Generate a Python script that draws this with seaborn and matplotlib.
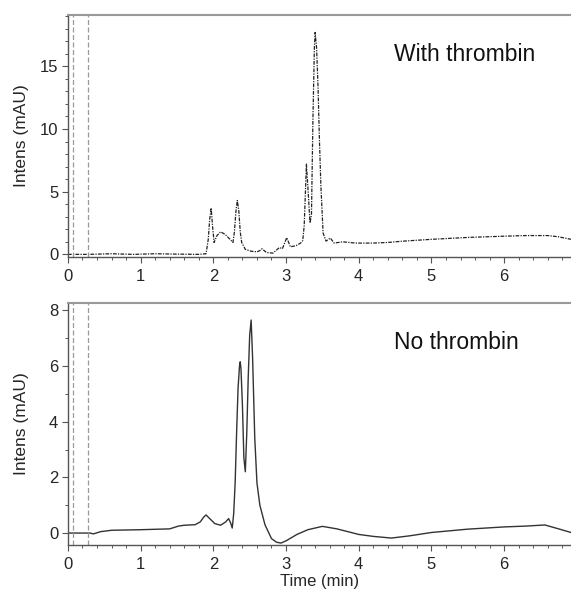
import numpy as np
import pandas as pd
import matplotlib
matplotlib.use("Agg")
import matplotlib.pyplot as plt
from matplotlib.ticker import MultipleLocator
import seaborn as sns

# --- data ---
time_with = [0.00, 0.30, 0.60, 0.90, 1.20, 1.50, 1.80, 1.90, 1.93, 1.95, 1.97, 1.99, 2.01,
             2.05, 2.10, 2.16, 2.23, 2.27, 2.29, 2.31, 2.33, 2.35, 2.37, 2.39, 2.44,
             2.52, 2.60, 2.64, 2.67, 2.73, 2.82, 2.91, 2.95, 2.98, 3.01, 3.06, 3.14, 3.20,
             3.23, 3.25, 3.27, 3.28, 3.30, 3.33, 3.35, 3.37, 3.39, 3.40, 3.42, 3.44,
             3.46, 3.48, 3.51, 3.55, 3.61, 3.66, 3.72, 3.78, 3.96, 4.20, 4.40, 4.60, 5.00,
             5.50, 6.00, 6.30, 6.60, 6.75, 6.92]
intens_with = [0.00, 0.00, 0.05, 0.00, 0.05, 0.02, 0.00, 0.05, 1.2, 2.8, 3.7, 2.2, 0.95,
               1.5, 1.8, 1.6, 1.2, 0.95, 1.8, 3.4, 4.3, 3.5, 1.8, 0.95, 0.4,
               0.25, 0.2, 0.3, 0.45, 0.15, 0.1, 0.55, 0.45, 0.9, 1.33, 0.6, 0.7, 0.9,
               1.1, 2.3, 5.5, 7.2, 5.4, 2.5, 3.2, 10.8, 16.5, 17.7, 16.5, 13.4,
               9.0, 5.4, 1.7, 1.06, 1.3, 0.9, 0.95, 1.0, 0.9, 0.9, 0.95, 1.05, 1.2,
               1.35, 1.45, 1.5, 1.5, 1.4, 1.2]

time_no = [0.00, 0.30, 0.35, 0.45, 0.60, 1.00, 1.40, 1.52, 1.60, 1.75, 1.82, 1.87, 1.90,
           1.95, 2.02, 2.10, 2.17, 2.21, 2.24, 2.26, 2.28, 2.30, 2.32, 2.34, 2.36,
           2.37, 2.38, 2.40, 2.42, 2.44, 2.46, 2.48, 2.50, 2.52, 2.54, 2.57, 2.60,
           2.64, 2.71, 2.80, 2.87, 2.93, 3.00, 3.15, 3.30, 3.50, 3.70, 4.00, 4.20,
           4.45, 4.70, 5.00, 5.50, 6.00, 6.30, 6.56, 6.75, 6.92]
intens_no = [0.00, 0.00, -0.03, 0.05, 0.10, 0.12, 0.15, 0.25, 0.28, 0.30, 0.40, 0.58, 0.65,
             0.52, 0.34, 0.28, 0.40, 0.52, 0.35, 0.18, 0.70, 1.8, 3.6, 5.2, 6.0,
             6.15, 5.9, 4.6, 2.7, 2.2, 3.6, 5.6, 7.1, 7.65, 6.3, 3.4, 1.8,
             1.0, 0.3, -0.2, -0.33, -0.36, -0.28, -0.05, 0.12, 0.24, 0.15, -0.05, -0.12,
             -0.18, -0.10, 0.02, 0.14, 0.22, 0.25, 0.29, 0.15, 0.02]

marker_times = [0.07, 0.27]

df_with = pd.DataFrame({"Time": time_with, "Intens": intens_with})
df_no = pd.DataFrame({"Time": time_no, "Intens": intens_no})

sns.set_style("ticks")
plt.rcParams["font.family"] = ["Liberation Sans", "DejaVu Sans"]

fig = plt.figure(figsize=(5.71, 5.96), dpi=100)
ax1 = fig.add_axes([0.119, 0.569, 0.881, 0.406])
ax2 = fig.add_axes([0.119, 0.086, 0.881, 0.406])

sns.lineplot(data=df_with, x="Time", y="Intens", ax=ax1, color="#222222",
             linewidth=0.9, linestyle=(0, (3, 1, 1, 1)))
sns.lineplot(data=df_no, x="Time", y="Intens", ax=ax2, color="#333333", linewidth=1.0)

for ax, ylim, major, label in [(ax1, (-0.2, 19.1), 5, "With thrombin"),
                               (ax2, (-0.42, 8.27), 2, "No thrombin")]:
    for t in marker_times:
        ax.axvline(t, color="#999999", linestyle=(0, (4, 2)), linewidth=0.9)
    ax.set_xlim(0, 6.92)
    ax.set_ylim(*ylim)
    ax.xaxis.set_major_locator(MultipleLocator(1))
    ax.xaxis.set_minor_locator(MultipleLocator(0.2))
    ax.yaxis.set_major_locator(MultipleLocator(major))
    ax.yaxis.set_minor_locator(MultipleLocator(1))
    ax.tick_params(which="major", length=4, width=0.8, color="#555555",
                   labelsize=12, pad=3)
    ax.tick_params(axis="x", which="major", pad=5)
    ax.tick_params(which="minor", length=2.5, width=0.7, color="#555555")
    ax.spines["right"].set_visible(False)
    ax.spines["top"].set_color("#999999")
    ax.spines["top"].set_linewidth(1.5)
    for s in ["left", "bottom"]:
        ax.spines[s].set_color("#555555")
        ax.spines[s].set_linewidth(1.0)
    ax.set_ylabel("Intens (mAU)", fontsize=12.5)
    ax.yaxis.set_label_coords(-0.078, 0.5)
    ax.text(0.648, 0.81, label, transform=ax.transAxes, fontsize=16.5,
            ha="left", va="baseline", color="#111111")

ax1.set_xlabel("")
ax2.set_xlabel("Time (min)", fontsize=12, labelpad=1)

fig.savefig("out.png", dpi=100)
